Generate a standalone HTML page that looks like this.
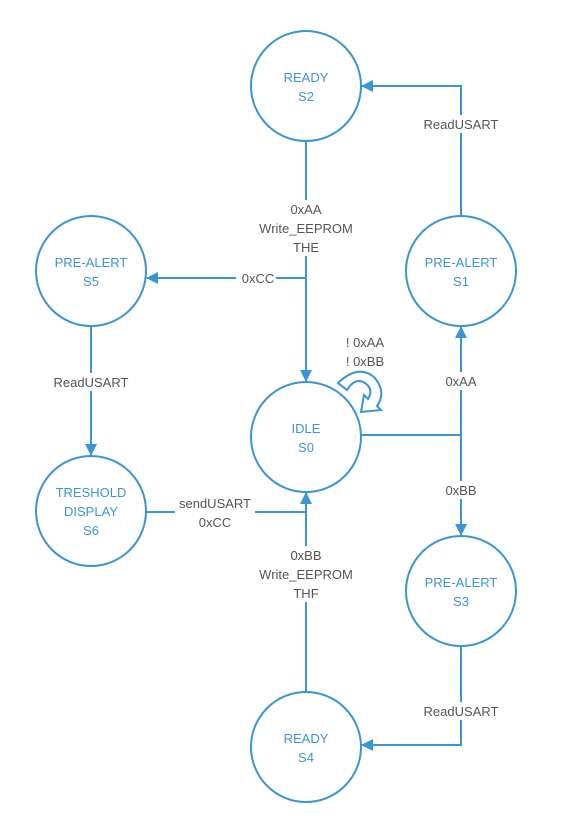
<!DOCTYPE html>
<html><head><style>
body{margin:0;background:#fff;}
svg text{font-family:"Liberation Sans",sans-serif;font-size:13px;}
</style></head><body>
<svg width="573" height="815" viewBox="0 0 573 815" xmlns="http://www.w3.org/2000/svg">
<defs><marker id="a" markerWidth="12" markerHeight="12" refX="11" refY="6" orient="auto" markerUnits="userSpaceOnUse"><path d="M0,0 L12,6 L0,12 z" fill="#3a95d5"/></marker></defs>
<g stroke="#3a95d5" stroke-width="2" fill="none">
<circle cx="306" cy="86" r="55"/>
<circle cx="461" cy="271" r="55"/>
<circle cx="91" cy="271" r="55"/>
<circle cx="306" cy="437" r="55"/>
<circle cx="91" cy="511" r="55"/>
<circle cx="461" cy="591" r="55"/>
<circle cx="306" cy="747" r="55"/>
<path d="M306 141 V381" marker-end="url(#a)"/>
<path d="M306 278 H147" marker-end="url(#a)"/>
<path d="M91 326 V455" marker-end="url(#a)"/>
<path d="M146 512 H306 V493" marker-end="url(#a)"/>
<path d="M306 692 V512"/>
<path d="M361 435 H461"/>
<path d="M461 435 V327" marker-end="url(#a)"/>
<path d="M461 435 V535" marker-end="url(#a)"/>
<path d="M461 216 V86 H362" marker-end="url(#a)"/>
<path d="M461 646 V745 H362" marker-end="url(#a)"/>
<path d="M338 383 Q358 364 374 377 Q387 392 377 406 L381 410 L361 412 L364 395 L368 399 Q374 389 365 383 Q355 377 347 390 Z" stroke-width="2" fill="#fff"/>
</g>
<g fill="#fff">
<rect x="254" y="200" width="104" height="56"/>
<rect x="236" y="270" width="40" height="16"/>
<rect x="50" y="373" width="82" height="18"/>
<rect x="175" y="495" width="80" height="36"/>
<rect x="254" y="546" width="104" height="56"/>
<rect x="440" y="372" width="42" height="18"/>
<rect x="440" y="481" width="42" height="18"/>
<rect x="420" y="115" width="82" height="18"/>
<rect x="420" y="702" width="82" height="18"/>
</g>
<g fill="#555" text-anchor="middle">
<text x="306" y="214">0xAA</text><text x="306" y="233">Write_EEPROM</text><text x="306" y="252">THE</text>
<text x="258" y="283">0xCC</text>
<text x="91" y="387">ReadUSART</text>
<text x="215" y="508">sendUSART</text><text x="215" y="527">0xCC</text>
<text x="306" y="560">0xBB</text><text x="306" y="579">Write_EEPROM</text><text x="306" y="598">THF</text>
<text x="461" y="386">0xAA</text>
<text x="461" y="495">0xBB</text>
<text x="461" y="129">ReadUSART</text>
<text x="461" y="716">ReadUSART</text>
<text x="365" y="347">! 0xAA</text><text x="365" y="366">! 0xBB</text>
</g>
<g fill="#3a95d5" text-anchor="middle">
<text x="306" y="82">READY</text><text x="306" y="101">S2</text>
<text x="461" y="267">PRE-ALERT</text><text x="461" y="286">S1</text>
<text x="91" y="267">PRE-ALERT</text><text x="91" y="286">S5</text>
<text x="306" y="433">IDLE</text><text x="306" y="452">S0</text>
<text x="91" y="497">TRESHOLD</text><text x="91" y="516">DISPLAY</text><text x="91" y="535">S6</text>
<text x="461" y="587">PRE-ALERT</text><text x="461" y="606">S3</text>
<text x="306" y="743">READY</text><text x="306" y="762">S4</text>
</g>
</svg>
</body></html>
